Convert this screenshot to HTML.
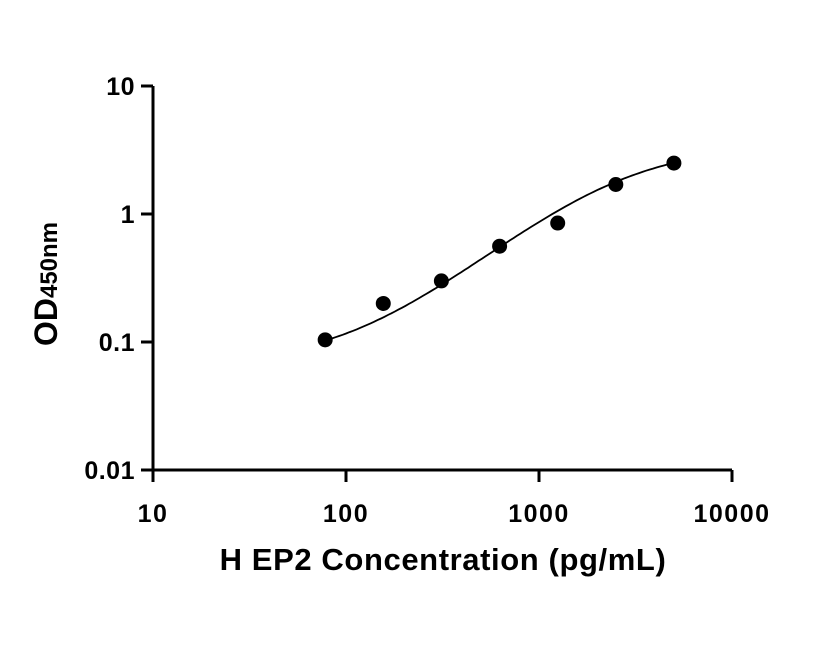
<!DOCTYPE html>
<html><head><meta charset="utf-8"><style>
html,body{margin:0;padding:0;background:#fff;}
svg text{font-family:"Liberation Sans",sans-serif;font-weight:bold;fill:#000;}
</style></head><body>
<svg id="chart" width="816" height="640" viewBox="0 0 816 640" xmlns="http://www.w3.org/2000/svg">
<g id="axes"></g><g id="curve"></g><g id="points"></g>
<text x="443" y="570" font-size="31" letter-spacing="0.6" text-anchor="middle">H EP2 Concentration (pg/mL)</text>
<text transform="translate(57,284) rotate(-90)" font-size="32" text-anchor="middle">OD<tspan font-size="24">450nm</tspan></text>
</svg>
<script>
const concentrations=[78,156,312,625,1250,2500,5000];
const odValues=[0.104,0.2,0.3,0.56,0.85,1.7,2.5];
const xTicks=[10,100,1000,10000];
const xTickLabels=["10","100","1000","10000"];
const yTicks=[0.01,0.1,1,10];
const yTickLabels=["0.01","0.1","1","10"];
const fitA=0.065,fitD=3.5,fitC=2500,fitB=1.3;
const NS="http://www.w3.org/2000/svg";
const X0=153,X1=732,Y0=470,Y1=86;
function xs(v){return X0+(Math.log10(v)-1)/3*(X1-X0);}
function ys(v){return Y0-(Math.log10(v)+2)/3*(Y0-Y1);}
function mk(t,a,p){const e=document.createElementNS(NS,t);for(const k in a)e.setAttribute(k,a[k]);p.appendChild(e);return e;}
const ax=document.getElementById('axes');
let l=mk('line',{x1:X0,y1:Y0,x2:X1,y2:Y0,stroke:'#000','stroke-width':3},ax);


l=mk('line',{x1:X0,y1:Y0,x2:X0,y2:Y1,stroke:'#000','stroke-width':3},ax);


xTicks.forEach((v,i)=>{const x=xs(v);
 const t=mk('line',{x1:x,y1:Y0,x2:x,y2:Y0+12,stroke:'#000','stroke-width':3},ax);
 
 
 const tx=mk('text',{x:x,y:Y0+52,'font-size':25,'letter-spacing':1.5,'text-anchor':'middle'},ax);tx.textContent=xTickLabels[i];
 
 
});
yTicks.forEach((v,i)=>{const y=ys(v);
 const t=mk('line',{x1:X0-12,y1:y,x2:X0,y2:y,stroke:'#000','stroke-width':3},ax);
 
 
 const tx=mk('text',{x:X0-18,y:y+9,'font-size':25,'letter-spacing':0.5,'text-anchor':'end'},ax);tx.textContent=yTickLabels[i];
 
 
});
let d='';
const lo=Math.log10(concentrations[0]),hi=Math.log10(concentrations[concentrations.length-1]);
for(let i=0;i<=100;i++){const lx=lo+(hi-lo)*i/100,x=Math.pow(10,lx);
 const r=Math.pow(x/fitC,fitB);const y=fitD+(fitA-fitD)/(1+r);
 d+=(i?'L':'M')+xs(x).toFixed(1)+','+ys(y).toFixed(1);}
const c=mk('path',{d:d,fill:'none',stroke:'#000','stroke-width':1.8},document.getElementById('curve'));


const pg=document.getElementById('points');
concentrations.forEach((v,i)=>{
 const p=mk('circle',{cx:xs(v),cy:ys(odValues[i]),r:7.5,fill:'#000'},pg);
 
 
});
</script>
</body></html>
